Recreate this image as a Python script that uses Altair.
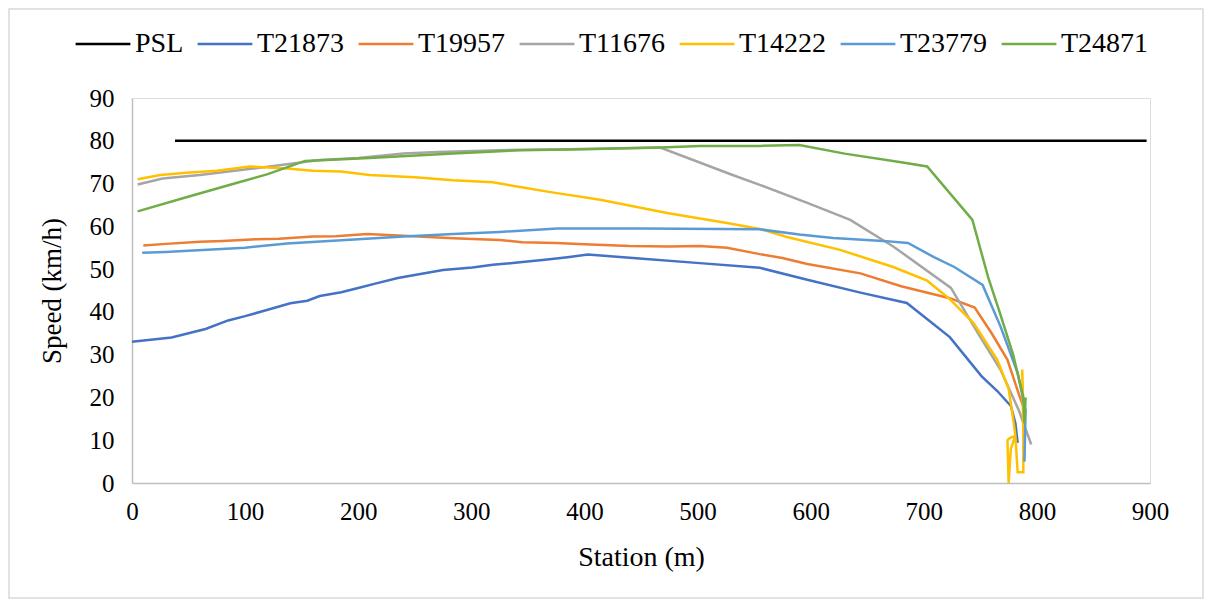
import altair as alt
import pandas as pd

series_names = ["PSL", "T21873", "T19957", "T11676", "T14222", "T23779", "T24871"]
series_colors = ["#000000", "#4472C4", "#ED7D31", "#A5A5A5", "#FFC000", "#5B9BD5", "#70AD47"]

psl_x = [38, 897]
psl_y = [80, 80]

t21873_x = [0, 35, 50, 65, 85, 100, 120, 140, 155, 166, 185, 200, 215, 235, 250, 275, 301, 319, 343, 365, 385, 403,
            443, 502, 555, 597, 644, 685, 723, 751, 765, 777, 781, 783]
t21873_y = [33, 34, 35, 36, 38, 39, 40.5, 42, 42.6, 43.7, 44.6, 45.6, 46.6, 47.9, 48.6, 49.8, 50.4, 51, 51.6, 52.2, 52.8, 53.4,
            52.6, 51.4, 50.3, 47.5, 44.5, 42.1, 34.1, 25, 21.5, 18, 14, 9.4]

t19957_x = [10, 30, 60, 80, 110, 130, 160, 180, 208, 240, 284, 325, 345, 375, 400, 440, 475, 502, 526, 555, 575, 597,
            644, 680, 723, 745, 760, 774, 785, 790]
t19957_y = [55.5, 55.9, 56.4, 56.6, 57, 57.1, 57.6, 57.7, 58.2, 57.8, 57.2, 56.8, 56.3, 56.1, 55.8, 55.4, 55.3, 55.4, 55, 53.5, 52.6, 51.2,
            49, 46, 43.2, 41, 35, 28.8, 20, 16.5]

t11676_x = [5, 27, 60, 107, 166, 200, 240, 270, 325, 385, 467, 531, 555, 597, 635, 673, 724, 748, 768, 784, 795]
t11676_y = [69.8, 71.2, 72, 73.5, 75.5, 76, 77, 77.4, 77.8, 78, 78.4, 72, 69.7, 65.5, 61.5, 55.3, 45.6, 35, 26.4, 17, 9]

t14222_x = [5, 25, 48, 75, 104, 137, 160, 185, 210, 250, 284, 319, 343, 370, 414, 473, 526, 555, 579, 626, 673, 703,
            723, 744, 765, 775, 779, 781, 776, 774, 775, 777, 781, 783, 788, 788, 787, 788, 789]
t14222_y = [71, 72, 72.5, 73, 74, 73.5, 73, 72.8, 72, 71.5, 70.8, 70.3, 69.2, 68, 66.2, 63.1, 60.8, 59.4, 57.5, 54.5, 50.5, 47.3,
            43, 37.4, 28.8, 22, 15, 11, 10.5, 10, 0, 8, 11, 2.5, 2.5, 12, 26.5, 18, 12]

t23779_x = [9, 30, 50, 100, 137, 200, 240, 284, 325, 376, 450, 555, 590, 620, 664, 686, 709, 727, 752, 768, 783, 790, 789]
t23779_y = [53.8, 54, 54.3, 55, 56, 57, 57.6, 58.2, 58.7, 59.5, 59.5, 59.3, 58.1, 57.3, 56.6, 56.1, 52.8, 50.5, 46.3, 36.5, 25.7, 17, 5]

t24871_x = [5, 48, 93, 120, 153, 210, 284, 343, 400, 467, 502, 555, 590, 630, 680, 703, 743, 757, 767, 779, 788, 789, 790]
t24871_y = [63.5, 66.8, 70.2, 72.2, 75.3, 76, 77, 77.8, 78, 78.4, 78.8, 78.8, 79, 77, 75, 74, 61.5, 48, 40, 30, 20, 14, 20]

x_ticks = [0, 100, 200, 300, 400, 500, 600, 700, 800, 900]
y_ticks = [0, 10, 20, 30, 40, 50, 60, 70, 80, 90]

all_x = [psl_x, t21873_x, t19957_x, t11676_x, t14222_x, t23779_x, t24871_x]
all_y = [psl_y, t21873_y, t19957_y, t11676_y, t14222_y, t23779_y, t24871_y]

rows = []
for name, xs, ys in zip(series_names, all_x, all_y):
    for i, (xv, yv) in enumerate(zip(xs, ys)):
        rows.append({"series": name, "idx": i, "station": xv, "speed": yv})
df = pd.DataFrame(rows)

W, H = 1018, 385
PAD_L, PAD_T, PAD_R, PAD_B = 124, 90, 54, 116
FONT = "Liberation Serif"

lines = alt.Chart(df).mark_line(strokeWidth=2.5, clip=False).encode(
    x=alt.X("station:Q",
            scale=alt.Scale(domain=[0, 900], nice=False, zero=False),
            axis=alt.Axis(values=x_ticks, title="Station (m)", grid=False, ticks=False,
                          labelFlush=False, labelOverlap=False,
                          domainColor="#BFBFBF", domainWidth=1.5,
                          labelFont=FONT, labelFontSize=25, labelColor="#000000", labelPadding=16,
                          titleFont=FONT, titleFontSize=28, titleFontWeight="normal", titleColor="#000000",
                          titleX=W / 2, titleY=74, titleBaseline="middle")),
    y=alt.Y("speed:Q",
            scale=alt.Scale(domain=[0, 90], nice=False, zero=False),
            axis=alt.Axis(values=y_ticks, title="Speed (km/h)", grid=False, ticks=False,
                          labelFlush=False, labelOverlap=False,
                          domainColor="#BFBFBF", domainWidth=1.5,
                          labelFont=FONT, labelFontSize=25, labelColor="#000000", labelPadding=18,
                          titleFont=FONT, titleFontSize=27, titleFontWeight="normal", titleColor="#000000",
                          titleX=-80, titleY=H / 2, titleBaseline="middle")),
    color=alt.Color("series:N",
                    scale=alt.Scale(domain=series_names, range=series_colors),
                    sort=series_names,
                    legend=alt.Legend(title=None, orient="none", legendX=-58, legendY=-83,
                                      direction="horizontal", columns=7,
                                      symbolType="stroke", symbolSize=3000, symbolStrokeWidth=2.5,
                                      labelFont=FONT, labelFontSize=28, labelColor="#000000",
                                      labelOffset=3, columnPadding=8)),
    detail="series:N",
    order=alt.Order("idx:Q"),
)

frame = alt.Chart(pd.DataFrame({"a": [0]})).mark_rect(
    fill=None, stroke="#D9D9D9", strokeWidth=1.5, clip=False
).encode(
    x=alt.value(-PAD_L + 1), x2=alt.value(W + PAD_R - 1),
    y=alt.value(-PAD_T + 1), y2=alt.value(H + PAD_B - 1),
)

chart = alt.layer(frame, lines).properties(
    width=W, height=H,
    padding={"left": PAD_L, "top": PAD_T, "right": PAD_R, "bottom": PAD_B},
    autosize=alt.AutoSizeParams(type="none"),
).configure_view(stroke=None).configure(background="#FFFFFF")

chart.save("out.html", embed_options={"renderer": "svg", "actions": False})
